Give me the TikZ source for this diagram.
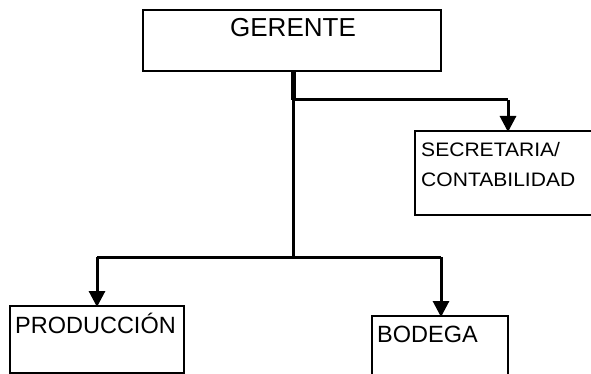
\documentclass[tikz,border=0pt]{standalone}
\usepackage{fontspec}
\setmainfont{Liberation Sans}
\usetikzlibrary{arrows.meta}
\begin{document}
\begin{tikzpicture}[x=1pt,y=-1pt,
  box/.style={draw=black, line width=1.6pt, rectangle, inner sep=0pt, outer sep=0pt},
  conn/.style={draw=black, line width=3pt},
  arr/.style={conn, -{Triangle[width=16pt,length=16pt]}, shorten >=-1pt},
  lbl/.style={inner sep=0pt, anchor=base west}]
\useasboundingbox (0,0) rectangle (591,374);
% boxes
\node[box, minimum width=298pt, minimum height=61pt] (ger) at (292,40.5) {};
\node[box, minimum width=182pt, minimum height=84pt] (sec) at (506,173) {};
\node[box, minimum width=174pt, minimum height=67pt] (pro) at (97,339.5) {};
\node[box, minimum width=136pt, minimum height=70pt] (bod) at (440,351) {};
% texts
\node[inner sep=0pt, anchor=base, font=\fontsize{26}{30}\selectfont] (tger) at (293,36.5) {GERENTE};
\node[lbl, font=\fontsize{19.5}{22}\selectfont, xscale=1.08] (tsec1) at (421,157) {SECRETARIA/};
\node[lbl, font=\fontsize{19.5}{22}\selectfont, xscale=1.08] (tsec2) at (421,186) {CONTABILIDAD};
\node[lbl, font=\fontsize{23.5}{26}\selectfont] (tpro) at (15,333) {PRODUCCIÓN};
\node[lbl, font=\fontsize{23.5}{26}\selectfont] (tbod) at (377,342) {BODEGA};
% connectors
\coordinate (j1) at (293,100);
\coordinate (j2) at (293,257);
\coordinate (sa) at (508,100);
\coordinate (la) at (97,257);
\coordinate (ra) at (441,257);
\draw[line width=5pt] (ger.south -| j1) -- (j1);
\draw[conn] (j1) -- (j2);
\draw[conn] (293,100) -- (sa);
\draw[arr] (sa) -- (sa |- sec.north);
\draw[conn] (la) -- (ra);
\draw[arr] (la) -- (la |- pro.north);
\draw[arr] (ra) -- (ra |- bod.north);
\end{tikzpicture}
\end{document}
